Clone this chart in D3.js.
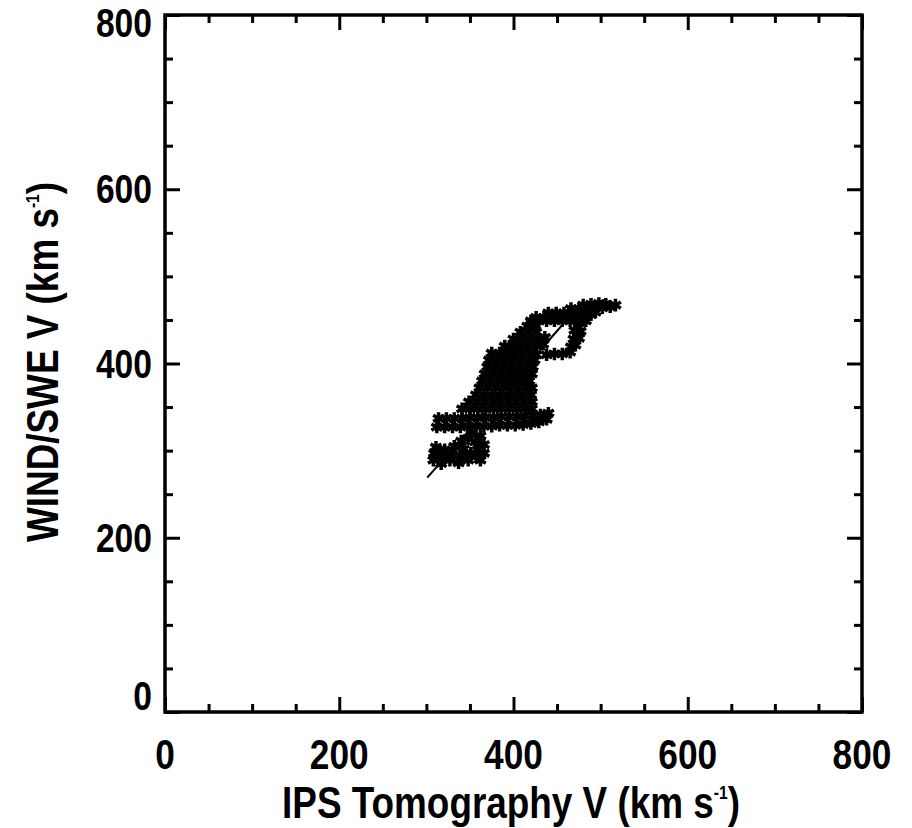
<!DOCTYPE html>
<html><head><meta charset="utf-8">
<script src="https://cdn.jsdelivr.net/npm/d3@7"></script>
<style>body{margin:0;background:#fff;}svg{display:block;}</style>
</head><body>
<svg id="c" width="912" height="828"></svg>
<script>
// ---- data (km/s) ----
const majorTicks = [0, 200, 400, 600, 800];
const minorTicks = [50,100,150,250,300,350,450,500,550,650,700,750];
const xTitle = "IPS Tomography V (km s";
const yTitle = "WIND/SWE V (km s";
// IPS tomography velocity (x) and WIND/SWE velocity (y) pairs
const ipsV = [
 308,309,311,317,319,321,327,329,332,337,340,343,348,351,357,362,366,359,
 340,348,356,362,352,366,
 312,321,330,339,348,357,366,375,384,393,402,411,420,429,438,
 314,323,332,341,350,359,368,377,386,395,404,413,422,431,440,
 341,350,359,368,377,386,395,404,413,421,
 349,358,367,376,385,394,403,412,421,
 357,366,375,384,393,402,411,420,
 361,370,379,388,397,406,415,421,
 364,373,382,391,400,409,418,
 367,376,385,394,403,412,421,
 370,379,388,397,406,415,422,
 372,381,390,399,408,417,424,
 375,384,393,402,411,420,426,438,447,
 390,399,408,417,426,434,
 400,409,418,427,436,
 408,417,426,
 416,425,
 420,429,438,447,456,465,474,483,
 426,435,444,453,462,471,480,489,
 440,449,458,467,476,485,494,
 466,475,484,493,502,511,506,517,
 480,489,498,
 477,477,475,471,465,456,470,469,466
];
const windV = [
 289,297,304,285,293,301,289,297,305,286,294,302,289,297,293,289,297,301,
 311,314,310,317,320,307,
 327,327,327,327,328,328,328,328,329,329,329,330,331,333,336,
 337,337,337,337,338,338,338,338,339,339,339,340,340,341,343,
 348,348,348,348,348,348,348,348,348,348,
 356,356,356,356,356,356,356,356,356,
 364,364,364,364,364,364,364,364,
 372,372,372,372,372,372,372,372,
 380,380,380,380,380,380,380,
 388,388,388,388,388,388,388,
 396,396,396,396,396,396,396,
 404,404,404,404,404,404,404,
 412,412,412,412,412,412,410,410,411,
 420,420,420,420,420,422,
 428,428,428,428,430,
 436,436,436,
 443,443,
 449,449,449,449,449,449,449,449,
 453,453,453,453,453,453,453,456,
 458,458,458,458,458,458,459,
 463,463,463,463,464,465,468,467,
 467,468,469,
 446,437,429,421,413,411,438,428,419
];
// least-squares fit line end points
const fitX = [301, 470];
const fitY = [269, 460];

// ---- drawing ----
const svg = d3.select("#c");
const L = 165, R = 862, T = 15, B = 712;
const x = d3.scaleLinear().domain([0, 800]).range([L, R]);
const y = d3.scaleLinear().domain([0, 800]).range([B, T]);
const font = "'Liberation Sans', Arial, Helvetica, sans-serif";
const sx = 0.82;

function ticks(axisGen, tr, size, vals) {
  const g = svg.append("g").attr("transform", tr)
    .call(axisGen.tickValues(vals).tickSize(size).tickSizeOuter(0).tickFormat(""));
  g.select(".domain").remove();
  g.selectAll(".tick line").attr("stroke", "#000").attr("stroke-width", 3);
}
ticks(d3.axisBottom(x), `translate(0,${B})`, -15, majorTicks);
ticks(d3.axisBottom(x), `translate(0,${B})`, -8, minorTicks);
ticks(d3.axisTop(x), `translate(0,${T})`, -15, majorTicks);
ticks(d3.axisTop(x), `translate(0,${T})`, -8, minorTicks);
ticks(d3.axisLeft(y), `translate(${L},0)`, -15, majorTicks);
ticks(d3.axisLeft(y), `translate(${L},0)`, -8, minorTicks);
ticks(d3.axisRight(y), `translate(${R},0)`, -15, majorTicks);
ticks(d3.axisRight(y), `translate(${R},0)`, -8, minorTicks);

svg.append("rect").attr("x", L).attr("y", T).attr("width", R - L).attr("height", B - T)
  .attr("fill", "none").attr("stroke", "#000").attr("stroke-width", 3.5);

// tick labels
svg.append("g").selectAll("text").data(majorTicks).join("text")
  .attr("transform", d => `translate(${x(d)},769) scale(${sx},1)`)
  .attr("text-anchor", "middle").attr("font-family", font).attr("font-weight", "bold")
  .attr("font-size", 43).text(d => d);
svg.append("g").selectAll("text").data(majorTicks).join("text")
  .attr("transform", d => {
    let yy = y(d) + 14;
    if (d === 0) yy -= 16;
    if (d === 800) yy += 8;
    return `translate(152,${yy}) scale(${sx},1)`;
  })
  .attr("text-anchor", "end").attr("font-family", font).attr("font-weight", "bold")
  .attr("font-size", 41).text(d => d);

// axis titles
function title(tr, str) {
  const t = svg.append("text").attr("transform", tr)
    .attr("text-anchor", "middle").attr("font-family", font).attr("font-weight", "bold")
    .attr("font-size", 45);
  t.append("tspan").text(str);
  t.append("tspan").attr("font-size", 19).attr("dy", -19).text("-1");
  t.append("tspan").attr("dy", 19).text(")");
}
title(`translate(511,818) scale(${sx},1)`, xTitle);
title(`translate(58,362) rotate(-90) scale(${sx},1)`, yTitle);

// fit line
svg.append("path")
  .attr("d", d3.line().x(d => x(d[0])).y(d => y(d[1]))(d3.zip(fitX, fitY)))
  .attr("stroke", "#000").attr("stroke-width", 2).attr("fill", "none");

// points
const sym = d3.symbol().type(d3.symbolAsterisk).size(110);
svg.append("g").selectAll("path").data(d3.zip(ipsV, windV)).join("path")
  .attr("transform", d => `translate(${x(d[0])},${y(d[1])})`)
  .attr("d", sym).attr("fill", "none").attr("stroke", "#000").attr("stroke-width", 3.5);
</script>
</body></html>
